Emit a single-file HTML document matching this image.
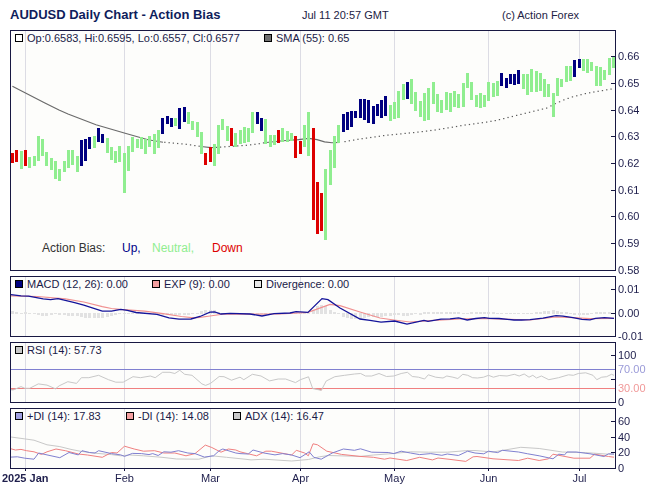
<!DOCTYPE html>
<html><head><meta charset="utf-8"><title>AUDUSD Daily Chart - Action Bias</title>
<style>html,body{margin:0;padding:0;background:#fff;width:650px;height:489px;overflow:hidden}svg{display:block}text{font-family:"Liberation Sans",sans-serif}</style>
</head><body>
<svg width="650" height="489" viewBox="0 0 650 489" font-family="Liberation Sans, sans-serif">
<rect width="650" height="489" fill="#ffffff"/>
<text x="10" y="19" font-size="13" font-weight="bold" fill="#0f1d5c">AUDUSD Daily Chart - Action Bias</text>
<text x="302" y="19" font-size="11" fill="#222244">Jul 11 20:57 GMT</text>
<text x="502" y="19" font-size="11" fill="#222244">(c) Action Forex</text>
<rect x="10.5" y="30.5" width="605" height="240" fill="#fdfdfb" stroke="#181842" stroke-width="1"/>
<line x1="25.5" y1="31" x2="25.5" y2="150" stroke="#dcdce4" stroke-width="1"/><line x1="124.5" y1="31" x2="124.5" y2="153" stroke="#dcdce4" stroke-width="1"/><line x1="210.5" y1="31" x2="210.5" y2="147" stroke="#dcdce4" stroke-width="1"/><line x1="300.5" y1="31" x2="300.5" y2="141" stroke="#dcdce4" stroke-width="1"/><line x1="394.5" y1="31" x2="394.5" y2="102" stroke="#dcdce4" stroke-width="1"/><line x1="488.5" y1="31" x2="488.5" y2="82" stroke="#dcdce4" stroke-width="1"/><line x1="579.5" y1="31" x2="579.5" y2="59" stroke="#dcdce4" stroke-width="1"/>
<polyline points="12.4,86.3 25.5,93 44.9,103 59,110.1 68,114 96,124.8 126,133.5 148,139.7 163,142.2" fill="none" stroke="#6a6a6a" stroke-width="1.15"/>
<polyline points="201,146.5 211,147.6 214,147.5" fill="none" stroke="#6a6a6a" stroke-width="1.15"/>
<polyline points="264,142.7 283,140.8 298.5,139.6 309,138.4 317,139.6 324.6,141.9 332,142.7 340,142.4" fill="none" stroke="#6a6a6a" stroke-width="1.15"/>
<rect x="164.2" y="141.7" width="1.3" height="1.2" fill="#5c5c5c"/><rect x="168.5" y="142.1" width="1.3" height="1.2" fill="#5c5c5c"/><rect x="172.7" y="142.5" width="1.3" height="1.2" fill="#5c5c5c"/><rect x="177.0" y="142.9" width="1.3" height="1.2" fill="#5c5c5c"/><rect x="181.3" y="143.3" width="1.3" height="1.2" fill="#5c5c5c"/><rect x="185.6" y="143.7" width="1.3" height="1.2" fill="#5c5c5c"/><rect x="189.9" y="144.3" width="1.3" height="1.2" fill="#5c5c5c"/><rect x="194.2" y="145.0" width="1.3" height="1.2" fill="#5c5c5c"/><rect x="198.5" y="145.6" width="1.3" height="1.2" fill="#5c5c5c"/><rect x="215.7" y="146.8" width="1.3" height="1.2" fill="#5c5c5c"/><rect x="219.9" y="146.5" width="1.3" height="1.2" fill="#5c5c5c"/><rect x="224.2" y="146.2" width="1.3" height="1.2" fill="#5c5c5c"/><rect x="228.5" y="145.9" width="1.3" height="1.2" fill="#5c5c5c"/><rect x="232.8" y="145.6" width="1.3" height="1.2" fill="#5c5c5c"/><rect x="237.1" y="145.3" width="1.3" height="1.2" fill="#5c5c5c"/><rect x="241.4" y="145.0" width="1.3" height="1.2" fill="#5c5c5c"/><rect x="245.7" y="144.7" width="1.3" height="1.2" fill="#5c5c5c"/><rect x="250.0" y="144.2" width="1.3" height="1.2" fill="#5c5c5c"/><rect x="254.3" y="143.7" width="1.3" height="1.2" fill="#5c5c5c"/><rect x="258.6" y="143.1" width="1.3" height="1.2" fill="#5c5c5c"/><rect x="262.9" y="142.3" width="1.3" height="1.2" fill="#5c5c5c"/><rect x="344.4" y="141.0" width="1.3" height="1.2" fill="#5c5c5c"/><rect x="348.7" y="140.2" width="1.3" height="1.2" fill="#5c5c5c"/><rect x="353.0" y="139.5" width="1.3" height="1.2" fill="#5c5c5c"/><rect x="357.3" y="138.7" width="1.3" height="1.2" fill="#5c5c5c"/><rect x="361.5" y="138.1" width="1.3" height="1.2" fill="#5c5c5c"/><rect x="365.8" y="137.5" width="1.3" height="1.2" fill="#5c5c5c"/><rect x="370.1" y="136.9" width="1.3" height="1.2" fill="#5c5c5c"/><rect x="374.4" y="136.3" width="1.3" height="1.2" fill="#5c5c5c"/><rect x="378.7" y="135.7" width="1.3" height="1.2" fill="#5c5c5c"/><rect x="383.0" y="135.0" width="1.3" height="1.2" fill="#5c5c5c"/><rect x="387.3" y="134.5" width="1.3" height="1.2" fill="#5c5c5c"/><rect x="391.6" y="134.1" width="1.3" height="1.2" fill="#5c5c5c"/><rect x="395.9" y="133.7" width="1.3" height="1.2" fill="#5c5c5c"/><rect x="400.2" y="133.3" width="1.3" height="1.2" fill="#5c5c5c"/><rect x="404.5" y="132.8" width="1.3" height="1.2" fill="#5c5c5c"/><rect x="408.7" y="132.4" width="1.3" height="1.2" fill="#5c5c5c"/><rect x="413.0" y="132.0" width="1.3" height="1.2" fill="#5c5c5c"/><rect x="417.3" y="131.5" width="1.3" height="1.2" fill="#5c5c5c"/><rect x="421.6" y="131.0" width="1.3" height="1.2" fill="#5c5c5c"/><rect x="425.9" y="130.5" width="1.3" height="1.2" fill="#5c5c5c"/><rect x="430.2" y="129.9" width="1.3" height="1.2" fill="#5c5c5c"/><rect x="434.5" y="129.4" width="1.3" height="1.2" fill="#5c5c5c"/><rect x="438.8" y="128.7" width="1.3" height="1.2" fill="#5c5c5c"/><rect x="443.1" y="128.0" width="1.3" height="1.2" fill="#5c5c5c"/><rect x="447.4" y="127.3" width="1.3" height="1.2" fill="#5c5c5c"/><rect x="451.7" y="126.6" width="1.3" height="1.2" fill="#5c5c5c"/><rect x="455.9" y="125.9" width="1.3" height="1.2" fill="#5c5c5c"/><rect x="460.2" y="125.1" width="1.3" height="1.2" fill="#5c5c5c"/><rect x="464.5" y="124.4" width="1.3" height="1.2" fill="#5c5c5c"/><rect x="468.8" y="123.9" width="1.3" height="1.2" fill="#5c5c5c"/><rect x="473.1" y="123.3" width="1.3" height="1.2" fill="#5c5c5c"/><rect x="477.4" y="122.7" width="1.3" height="1.2" fill="#5c5c5c"/><rect x="481.7" y="122.1" width="1.3" height="1.2" fill="#5c5c5c"/><rect x="486.0" y="121.5" width="1.3" height="1.2" fill="#5c5c5c"/><rect x="490.3" y="120.7" width="1.3" height="1.2" fill="#5c5c5c"/><rect x="494.6" y="120.0" width="1.3" height="1.2" fill="#5c5c5c"/><rect x="498.8" y="119.0" width="1.3" height="1.2" fill="#5c5c5c"/><rect x="503.1" y="118.0" width="1.3" height="1.2" fill="#5c5c5c"/><rect x="507.4" y="116.9" width="1.3" height="1.2" fill="#5c5c5c"/><rect x="511.7" y="115.9" width="1.3" height="1.2" fill="#5c5c5c"/><rect x="516.0" y="114.8" width="1.3" height="1.2" fill="#5c5c5c"/><rect x="520.3" y="113.8" width="1.3" height="1.2" fill="#5c5c5c"/><rect x="524.6" y="112.7" width="1.3" height="1.2" fill="#5c5c5c"/><rect x="528.9" y="111.7" width="1.3" height="1.2" fill="#5c5c5c"/><rect x="533.2" y="110.6" width="1.3" height="1.2" fill="#5c5c5c"/><rect x="537.5" y="109.6" width="1.3" height="1.2" fill="#5c5c5c"/><rect x="541.8" y="108.5" width="1.3" height="1.2" fill="#5c5c5c"/><rect x="546.0" y="107.5" width="1.3" height="1.2" fill="#5c5c5c"/><rect x="550.3" y="105.3" width="1.3" height="1.2" fill="#5c5c5c"/><rect x="554.6" y="103.0" width="1.3" height="1.2" fill="#5c5c5c"/><rect x="558.9" y="101.2" width="1.3" height="1.2" fill="#5c5c5c"/><rect x="563.2" y="99.3" width="1.3" height="1.2" fill="#5c5c5c"/><rect x="567.5" y="97.8" width="1.3" height="1.2" fill="#5c5c5c"/><rect x="571.8" y="96.3" width="1.3" height="1.2" fill="#5c5c5c"/><rect x="576.1" y="95.2" width="1.3" height="1.2" fill="#5c5c5c"/><rect x="580.4" y="94.1" width="1.3" height="1.2" fill="#5c5c5c"/><rect x="584.7" y="93.0" width="1.3" height="1.2" fill="#5c5c5c"/><rect x="589.0" y="92.2" width="1.3" height="1.2" fill="#5c5c5c"/><rect x="593.2" y="91.4" width="1.3" height="1.2" fill="#5c5c5c"/><rect x="597.5" y="90.7" width="1.3" height="1.2" fill="#5c5c5c"/><rect x="601.8" y="90.0" width="1.3" height="1.2" fill="#5c5c5c"/><rect x="606.1" y="89.2" width="1.3" height="1.2" fill="#5c5c5c"/><rect x="610.4" y="88.5" width="1.3" height="1.2" fill="#5c5c5c"/>
<g clip-path="url(#cm)"><rect x="11" y="153" width="3" height="10" fill="#dd0000"/><rect x="15" y="150" width="3" height="12" fill="#dd0000"/><rect x="20" y="151" width="3" height="18" fill="#90ee90"/><rect x="24" y="150" width="3" height="16" fill="#dd0000"/><rect x="28" y="157" width="3" height="11" fill="#90ee90"/><rect x="33" y="156" width="3" height="10" fill="#90ee90"/><rect x="37" y="136" width="3" height="25" fill="#90ee90"/><rect x="41" y="139" width="3" height="17" fill="#90ee90"/><rect x="45" y="152" width="3" height="14" fill="#90ee90"/><rect x="50" y="158" width="3" height="12" fill="#90ee90"/><rect x="54" y="161" width="3" height="18" fill="#90ee90"/><rect x="58" y="169" width="3" height="12" fill="#90ee90"/><rect x="63" y="161" width="3" height="11" fill="#90ee90"/><rect x="67" y="150" width="3" height="18" fill="#90ee90"/><rect x="71" y="150" width="3" height="15" fill="#90ee90"/><rect x="76" y="156" width="3" height="16" fill="#90ee90"/><rect x="80" y="140" width="3" height="26" fill="#000080"/><rect x="84" y="139" width="3" height="22" fill="#000080"/><rect x="88" y="137" width="3" height="12" fill="#000080"/><rect x="93" y="136" width="3" height="12" fill="#90ee90"/><rect x="97" y="128" width="3" height="14" fill="#000080"/><rect x="101" y="134" width="3" height="9" fill="#000080"/><rect x="106" y="138" width="3" height="15" fill="#90ee90"/><rect x="110" y="147" width="3" height="13" fill="#90ee90"/><rect x="114" y="151" width="3" height="12" fill="#90ee90"/><rect x="118" y="146" width="3" height="16" fill="#90ee90"/><rect x="123" y="153" width="3" height="40" fill="#90ee90"/><rect x="127" y="146" width="3" height="25" fill="#90ee90"/><rect x="131" y="137" width="3" height="15" fill="#90ee90"/><rect x="136" y="139" width="3" height="9" fill="#90ee90"/><rect x="140" y="137" width="3" height="12" fill="#90ee90"/><rect x="144" y="139" width="3" height="15" fill="#90ee90"/><rect x="148" y="136" width="3" height="11" fill="#90ee90"/><rect x="153" y="134" width="3" height="20" fill="#90ee90"/><rect x="157" y="130" width="3" height="18" fill="#90ee90"/><rect x="161" y="118" width="3" height="16" fill="#000080"/><rect x="166" y="116" width="3" height="8" fill="#000080"/><rect x="170" y="118" width="3" height="9" fill="#000080"/><rect x="174" y="118" width="3" height="8" fill="#90ee90"/><rect x="178" y="108" width="3" height="21" fill="#000080"/><rect x="183" y="107" width="3" height="15" fill="#000080"/><rect x="187" y="112" width="3" height="12" fill="#90ee90"/><rect x="191" y="121" width="3" height="9" fill="#90ee90"/><rect x="196" y="122" width="3" height="15" fill="#90ee90"/><rect x="200" y="132" width="3" height="22" fill="#90ee90"/><rect x="204" y="153" width="3" height="12" fill="#dd0000"/><rect x="209" y="147" width="3" height="15" fill="#dd0000"/><rect x="213" y="144" width="3" height="22" fill="#90ee90"/><rect x="217" y="125" width="3" height="29" fill="#90ee90"/><rect x="221" y="119" width="3" height="11" fill="#90ee90"/><rect x="226" y="126" width="3" height="15" fill="#90ee90"/><rect x="230" y="128" width="3" height="18" fill="#dd0000"/><rect x="234" y="133" width="3" height="14" fill="#90ee90"/><rect x="239" y="130" width="3" height="14" fill="#90ee90"/><rect x="243" y="127" width="3" height="16" fill="#90ee90"/><rect x="247" y="128" width="3" height="14" fill="#90ee90"/><rect x="251" y="112" width="3" height="21" fill="#90ee90"/><rect x="256" y="112" width="3" height="12" fill="#000080"/><rect x="260" y="118" width="3" height="13" fill="#000080"/><rect x="264" y="119" width="3" height="25" fill="#90ee90"/><rect x="269" y="135" width="3" height="12" fill="#90ee90"/><rect x="273" y="135" width="3" height="10" fill="#90ee90"/><rect x="277" y="130" width="3" height="13" fill="#dd0000"/><rect x="281" y="128" width="3" height="14" fill="#90ee90"/><rect x="286" y="131" width="3" height="11" fill="#90ee90"/><rect x="290" y="133" width="3" height="8" fill="#90ee90"/><rect x="294" y="136" width="3" height="22" fill="#dd0000"/><rect x="299" y="141" width="3" height="13" fill="#dd0000"/><rect x="303" y="125" width="3" height="22" fill="#90ee90"/><rect x="307" y="112" width="3" height="44" fill="#90ee90"/><rect x="312" y="128" width="3" height="92" fill="#dd0000"/><rect x="316" y="182" width="3" height="52" fill="#dd0000"/><rect x="320" y="193" width="3" height="38" fill="#dd0000"/><rect x="324" y="169" width="3" height="71" fill="#90ee90"/><rect x="329" y="150" width="3" height="35" fill="#90ee90"/><rect x="333" y="136" width="3" height="32" fill="#90ee90"/><rect x="337" y="125" width="3" height="18" fill="#90ee90"/><rect x="342" y="114" width="3" height="18" fill="#000080"/><rect x="346" y="112" width="3" height="18" fill="#000080"/><rect x="350" y="111" width="3" height="16" fill="#000080"/><rect x="354" y="111" width="3" height="7" fill="#000080"/><rect x="359" y="99" width="3" height="19" fill="#000080"/><rect x="363" y="99" width="3" height="21" fill="#000080"/><rect x="367" y="100" width="3" height="23" fill="#000080"/><rect x="372" y="106" width="3" height="18" fill="#000080"/><rect x="376" y="104" width="3" height="12" fill="#000080"/><rect x="380" y="100" width="3" height="18" fill="#000080"/><rect x="384" y="96" width="3" height="20" fill="#000080"/><rect x="389" y="105" width="3" height="16" fill="#90ee90"/><rect x="393" y="102" width="3" height="17" fill="#90ee90"/><rect x="397" y="91" width="3" height="27" fill="#90ee90"/><rect x="402" y="84" width="3" height="16" fill="#90ee90"/><rect x="406" y="82" width="3" height="17" fill="#000080"/><rect x="410" y="79" width="3" height="25" fill="#90ee90"/><rect x="414" y="92" width="3" height="19" fill="#90ee90"/><rect x="419" y="101" width="3" height="16" fill="#90ee90"/><rect x="423" y="93" width="3" height="28" fill="#90ee90"/><rect x="427" y="88" width="3" height="32" fill="#90ee90"/><rect x="432" y="82" width="3" height="22" fill="#90ee90"/><rect x="436" y="94" width="3" height="18" fill="#90ee90"/><rect x="440" y="100" width="3" height="13" fill="#90ee90"/><rect x="445" y="92" width="3" height="18" fill="#90ee90"/><rect x="449" y="93" width="3" height="19" fill="#90ee90"/><rect x="453" y="91" width="3" height="16" fill="#90ee90"/><rect x="457" y="94" width="3" height="14" fill="#90ee90"/><rect x="462" y="83" width="3" height="24" fill="#90ee90"/><rect x="466" y="73" width="3" height="15" fill="#90ee90"/><rect x="470" y="82" width="3" height="18" fill="#90ee90"/><rect x="475" y="95" width="3" height="12" fill="#90ee90"/><rect x="479" y="93" width="3" height="15" fill="#90ee90"/><rect x="483" y="95" width="3" height="12" fill="#90ee90"/><rect x="487" y="82" width="3" height="19" fill="#90ee90"/><rect x="492" y="83" width="3" height="14" fill="#90ee90"/><rect x="496" y="81" width="3" height="15" fill="#90ee90"/><rect x="500" y="73" width="3" height="13" fill="#000080"/><rect x="505" y="78" width="3" height="10" fill="#000080"/><rect x="509" y="74" width="3" height="10" fill="#000080"/><rect x="513" y="74" width="3" height="11" fill="#000080"/><rect x="517" y="70" width="3" height="14" fill="#000080"/><rect x="522" y="74" width="3" height="15" fill="#90ee90"/><rect x="526" y="74" width="3" height="21" fill="#90ee90"/><rect x="530" y="69" width="3" height="23" fill="#90ee90"/><rect x="535" y="71" width="3" height="21" fill="#90ee90"/><rect x="539" y="73" width="3" height="18" fill="#90ee90"/><rect x="543" y="79" width="3" height="18" fill="#90ee90"/><rect x="547" y="84" width="3" height="13" fill="#90ee90"/><rect x="552" y="93" width="3" height="24" fill="#90ee90"/><rect x="556" y="78" width="3" height="18" fill="#90ee90"/><rect x="560" y="79" width="3" height="8" fill="#90ee90"/><rect x="565" y="66" width="3" height="16" fill="#90ee90"/><rect x="569" y="66" width="3" height="15" fill="#90ee90"/><rect x="573" y="60" width="3" height="17" fill="#000080"/><rect x="578" y="59" width="3" height="9" fill="#000080"/><rect x="582" y="59" width="3" height="12" fill="#90ee90"/><rect x="586" y="59" width="3" height="14" fill="#90ee90"/><rect x="590" y="62" width="3" height="9" fill="#90ee90"/><rect x="595" y="66" width="3" height="20" fill="#90ee90"/><rect x="599" y="67" width="3" height="19" fill="#90ee90"/><rect x="603" y="70" width="3" height="10" fill="#90ee90"/><rect x="608" y="58" width="3" height="17" fill="#90ee90"/><rect x="612" y="57" width="3" height="11" fill="#90ee90"/></g>
<rect x="10.5" y="30.5" width="605" height="240" fill="none" stroke="#181842" stroke-width="1"/>
<g font-size="11">
<rect x="15.5" y="34.5" width="7" height="7" fill="#ffffff" stroke="#000" stroke-width="1"/>
<text x="27" y="42" fill="#1a1a48">Op:0.6583, Hi:0.6595, Lo:0.6557, Cl:0.6577</text>
<rect x="264.5" y="34.5" width="7" height="7" fill="#707070" stroke="#000" stroke-width="1"/>
<text x="276" y="42" fill="#1a1a48">SMA (55): 0.65</text>
</g>
<g font-size="12">
<text x="42" y="252" fill="#333">Action Bias:</text>
<text x="122" y="252" fill="#000088">Up,</text>
<text x="152" y="252" fill="#90ee90">Neutral,</text>
<text x="212" y="252" fill="#dd0000">Down</text>
</g>
<line x1="611" y1="243.5" x2="615" y2="243.5" stroke="#181842" stroke-width="1"/><line x1="611" y1="216.5" x2="615" y2="216.5" stroke="#181842" stroke-width="1"/><line x1="611" y1="190.5" x2="615" y2="190.5" stroke="#181842" stroke-width="1"/><line x1="611" y1="163.5" x2="615" y2="163.5" stroke="#181842" stroke-width="1"/><line x1="611" y1="136.5" x2="615" y2="136.5" stroke="#181842" stroke-width="1"/><line x1="611" y1="110.5" x2="615" y2="110.5" stroke="#181842" stroke-width="1"/><line x1="611" y1="83.5" x2="615" y2="83.5" stroke="#181842" stroke-width="1"/><line x1="611" y1="56.5" x2="615" y2="56.5" stroke="#181842" stroke-width="1"/>
<g font-size="11">









</g>
<rect x="10.5" y="276.5" width="605" height="60" fill="#fdfdfb" stroke="#181842" stroke-width="1"/>
<line x1="25.5" y1="277" x2="25.5" y2="336" stroke="#dcdce4" stroke-width="1"/><line x1="124.5" y1="277" x2="124.5" y2="336" stroke="#dcdce4" stroke-width="1"/><line x1="210.5" y1="277" x2="210.5" y2="336" stroke="#dcdce4" stroke-width="1"/><line x1="300.5" y1="277" x2="300.5" y2="336" stroke="#dcdce4" stroke-width="1"/><line x1="394.5" y1="277" x2="394.5" y2="336" stroke="#dcdce4" stroke-width="1"/><line x1="488.5" y1="277" x2="488.5" y2="336" stroke="#dcdce4" stroke-width="1"/><line x1="579.5" y1="277" x2="579.5" y2="336" stroke="#dcdce4" stroke-width="1"/>
<rect x="11" y="311" width="3" height="3" fill="#e2e2e2"/><rect x="15" y="312" width="3" height="2" fill="#e2e2e2"/><rect x="20" y="313" width="3" height="1" fill="#e2e2e2"/><rect x="24" y="312" width="3" height="2" fill="#e2e2e2"/><rect x="28" y="313" width="3" height="1" fill="#e2e2e2"/><rect x="33" y="313" width="3" height="1" fill="#e2e2e2"/><rect x="37" y="313" width="3" height="2" fill="#e2e2e2"/><rect x="41" y="313" width="3" height="3" fill="#e2e2e2"/><rect x="45" y="313" width="3" height="3" fill="#e2e2e2"/><rect x="50" y="313" width="3" height="2" fill="#e2e2e2"/><rect x="54" y="313" width="3" height="1" fill="#e2e2e2"/><rect x="58" y="313" width="3" height="2" fill="#e2e2e2"/><rect x="63" y="313" width="3" height="2" fill="#e2e2e2"/><rect x="67" y="313" width="3" height="3" fill="#e2e2e2"/><rect x="71" y="313" width="3" height="3" fill="#e2e2e2"/><rect x="76" y="313" width="3" height="3" fill="#e2e2e2"/><rect x="80" y="313" width="3" height="4" fill="#e2e2e2"/><rect x="84" y="313" width="3" height="5" fill="#e2e2e2"/><rect x="88" y="313" width="3" height="5" fill="#e2e2e2"/><rect x="93" y="313" width="3" height="5" fill="#e2e2e2"/><rect x="97" y="313" width="3" height="5" fill="#e2e2e2"/><rect x="101" y="313" width="3" height="5" fill="#e2e2e2"/><rect x="106" y="313" width="3" height="4" fill="#e2e2e2"/><rect x="110" y="313" width="3" height="3" fill="#e2e2e2"/><rect x="114" y="313" width="3" height="2" fill="#e2e2e2"/><rect x="118" y="313" width="3" height="1" fill="#e2e2e2"/><rect x="123" y="313" width="3" height="1" fill="#e2e2e2"/><rect x="127" y="313" width="3" height="1" fill="#e2e2e2"/><rect x="131" y="313" width="3" height="1" fill="#e2e2e2"/><rect x="136" y="313" width="3" height="1" fill="#e2e2e2"/><rect x="140" y="313" width="3" height="1" fill="#e2e2e2"/><rect x="144" y="313" width="3" height="1" fill="#e2e2e2"/><rect x="148" y="313" width="3" height="1" fill="#e2e2e2"/><rect x="153" y="313" width="3" height="1" fill="#e2e2e2"/><rect x="157" y="313" width="3" height="2" fill="#e2e2e2"/><rect x="161" y="313" width="3" height="2" fill="#e2e2e2"/><rect x="166" y="313" width="3" height="2" fill="#e2e2e2"/><rect x="170" y="313" width="3" height="2" fill="#e2e2e2"/><rect x="174" y="313" width="3" height="2" fill="#e2e2e2"/><rect x="178" y="313" width="3" height="2" fill="#e2e2e2"/><rect x="183" y="313" width="3" height="2" fill="#e2e2e2"/><rect x="187" y="313" width="3" height="2" fill="#e2e2e2"/><rect x="191" y="313" width="3" height="1" fill="#e2e2e2"/><rect x="196" y="313" width="3" height="1" fill="#e2e2e2"/><rect x="200" y="311" width="3" height="3" fill="#e2e2e2"/><rect x="204" y="310" width="3" height="4" fill="#e2e2e2"/><rect x="209" y="310" width="3" height="4" fill="#e2e2e2"/><rect x="213" y="310" width="3" height="4" fill="#e2e2e2"/><rect x="217" y="312" width="3" height="2" fill="#e2e2e2"/><rect x="221" y="313" width="3" height="1" fill="#e2e2e2"/><rect x="226" y="313" width="3" height="1" fill="#e2e2e2"/><rect x="230" y="313" width="3" height="1" fill="#e2e2e2"/><rect x="234" y="313" width="3" height="1" fill="#e2e2e2"/><rect x="239" y="313" width="3" height="1" fill="#e2e2e2"/><rect x="243" y="313" width="3" height="1" fill="#e2e2e2"/><rect x="247" y="313" width="3" height="1" fill="#e2e2e2"/><rect x="251" y="313" width="3" height="1" fill="#e2e2e2"/><rect x="256" y="313" width="3" height="1" fill="#e2e2e2"/><rect x="260" y="313" width="3" height="1" fill="#e2e2e2"/><rect x="264" y="313" width="3" height="1" fill="#e2e2e2"/><rect x="269" y="313" width="3" height="1" fill="#e2e2e2"/><rect x="273" y="313" width="3" height="1" fill="#e2e2e2"/><rect x="277" y="313" width="3" height="1" fill="#e2e2e2"/><rect x="281" y="313" width="3" height="1" fill="#e2e2e2"/><rect x="286" y="313" width="3" height="1" fill="#e2e2e2"/><rect x="290" y="313" width="3" height="1" fill="#e2e2e2"/><rect x="294" y="313" width="3" height="1" fill="#e2e2e2"/><rect x="299" y="313" width="3" height="1" fill="#e2e2e2"/><rect x="303" y="313" width="3" height="1" fill="#e2e2e2"/><rect x="307" y="313" width="3" height="1" fill="#e2e2e2"/><rect x="312" y="310" width="3" height="4" fill="#e2e2e2"/><rect x="316" y="306" width="3" height="8" fill="#e2e2e2"/><rect x="320" y="305" width="3" height="9" fill="#e2e2e2"/><rect x="324" y="306" width="3" height="8" fill="#e2e2e2"/><rect x="329" y="310" width="3" height="4" fill="#e2e2e2"/><rect x="333" y="312" width="3" height="2" fill="#e2e2e2"/><rect x="337" y="313" width="3" height="1" fill="#e2e2e2"/><rect x="342" y="313" width="3" height="4" fill="#e2e2e2"/><rect x="346" y="313" width="3" height="5" fill="#e2e2e2"/><rect x="350" y="313" width="3" height="6" fill="#e2e2e2"/><rect x="354" y="313" width="3" height="6" fill="#e2e2e2"/><rect x="359" y="313" width="3" height="6" fill="#e2e2e2"/><rect x="363" y="313" width="3" height="5" fill="#e2e2e2"/><rect x="367" y="313" width="3" height="4" fill="#e2e2e2"/><rect x="372" y="313" width="3" height="4" fill="#e2e2e2"/><rect x="376" y="313" width="3" height="4" fill="#e2e2e2"/><rect x="380" y="313" width="3" height="4" fill="#e2e2e2"/><rect x="384" y="313" width="3" height="3" fill="#e2e2e2"/><rect x="389" y="313" width="3" height="3" fill="#e2e2e2"/><rect x="393" y="313" width="3" height="2" fill="#e2e2e2"/><rect x="397" y="313" width="3" height="2" fill="#e2e2e2"/><rect x="402" y="313" width="3" height="3" fill="#e2e2e2"/><rect x="406" y="313" width="3" height="3" fill="#e2e2e2"/><rect x="410" y="313" width="3" height="2" fill="#e2e2e2"/><rect x="414" y="313" width="3" height="1" fill="#e2e2e2"/><rect x="419" y="313" width="3" height="2" fill="#e2e2e2"/><rect x="423" y="312" width="3" height="2" fill="#e2e2e2"/><rect x="427" y="312" width="3" height="2" fill="#e2e2e2"/><rect x="432" y="312" width="3" height="2" fill="#e2e2e2"/><rect x="436" y="312" width="3" height="2" fill="#e2e2e2"/><rect x="440" y="312" width="3" height="2" fill="#e2e2e2"/><rect x="445" y="312" width="3" height="2" fill="#e2e2e2"/><rect x="449" y="312" width="3" height="2" fill="#e2e2e2"/><rect x="453" y="312" width="3" height="2" fill="#e2e2e2"/><rect x="457" y="312" width="3" height="2" fill="#e2e2e2"/><rect x="462" y="313" width="3" height="1" fill="#e2e2e2"/><rect x="466" y="313" width="3" height="1" fill="#e2e2e2"/><rect x="470" y="312" width="3" height="2" fill="#e2e2e2"/><rect x="475" y="312" width="3" height="2" fill="#e2e2e2"/><rect x="479" y="312" width="3" height="2" fill="#e2e2e2"/><rect x="483" y="312" width="3" height="2" fill="#e2e2e2"/><rect x="487" y="312" width="3" height="2" fill="#e2e2e2"/><rect x="492" y="312" width="3" height="2" fill="#e2e2e2"/><rect x="496" y="313" width="3" height="1" fill="#e2e2e2"/><rect x="500" y="313" width="3" height="1" fill="#e2e2e2"/><rect x="505" y="313" width="3" height="1" fill="#e2e2e2"/><rect x="509" y="313" width="3" height="1" fill="#e2e2e2"/><rect x="513" y="313" width="3" height="1" fill="#e2e2e2"/><rect x="517" y="313" width="3" height="1" fill="#e2e2e2"/><rect x="522" y="313" width="3" height="1" fill="#e2e2e2"/><rect x="526" y="313" width="3" height="1" fill="#e2e2e2"/><rect x="530" y="313" width="3" height="1" fill="#e2e2e2"/><rect x="535" y="312" width="3" height="2" fill="#e2e2e2"/><rect x="539" y="312" width="3" height="2" fill="#e2e2e2"/><rect x="543" y="311" width="3" height="3" fill="#e2e2e2"/><rect x="547" y="311" width="3" height="3" fill="#e2e2e2"/><rect x="552" y="310" width="3" height="4" fill="#e2e2e2"/><rect x="556" y="311" width="3" height="3" fill="#e2e2e2"/><rect x="560" y="312" width="3" height="2" fill="#e2e2e2"/><rect x="565" y="312" width="3" height="2" fill="#e2e2e2"/><rect x="569" y="313" width="3" height="1" fill="#e2e2e2"/><rect x="573" y="313" width="3" height="2" fill="#e2e2e2"/><rect x="578" y="313" width="3" height="2" fill="#e2e2e2"/><rect x="582" y="313" width="3" height="2" fill="#e2e2e2"/><rect x="586" y="313" width="3" height="2" fill="#e2e2e2"/><rect x="590" y="313" width="3" height="1" fill="#e2e2e2"/><rect x="595" y="312" width="3" height="2" fill="#e2e2e2"/><rect x="599" y="312" width="3" height="2" fill="#e2e2e2"/><rect x="603" y="312" width="3" height="2" fill="#e2e2e2"/><rect x="608" y="312" width="3" height="2" fill="#e2e2e2"/><rect x="612" y="313" width="3" height="1" fill="#e2e2e2"/>
<polyline points="11,295.9 37.7,296.5 65.4,298.9 83.8,302 102.3,306.6 111.5,308.5 120,309.4 144.6,311.2 163,313.7 181.5,316.5 194,317.8 200,317.4 210,316 224,314 250,314.2 280,314 308,312.4 330,304.4 340,305.6 360,312 380,318 394,320 410,322 430,320.6 460,319 484,318.4 510,319.4 530,320 556,317 573,317.7 590,318.7 614,318.3" fill="none" stroke="#f09090" stroke-width="1.2"/>
<polyline points="11,294.6 21,295.9 28.5,296.1 43.2,298.9 50.6,299.6 58,298.7 74.6,302.6 83.8,305.1 102.3,311.2 111.5,311.2 120.8,309.4 127.4,310.4 136,312.5 157,314.3 169,317.8 179,319.2 191,319 200,316.5 210,312.2 214.6,312 221,314 230,313.4 250,314 262,316 274,313.6 290,313 296,311.6 308,312.4 322,298.6 328,299.6 340,308 360,319 370,320.3 381,322.2 394.6,321 407,324.2 424,320.4 428,321.3 441,319.2 450,318.8 458.6,317.9 467.2,320 475.8,318.5 484.5,317.6 489.4,318.3 499,318.5 514,320 521.4,320 530,319.6 543,318.1 556,315.7 563,316.1 573,317.7 582,319.4 590,319.8 595.5,318.3 604.5,317.7 614,318.3" fill="none" stroke="#14149a" stroke-width="1.3"/>
<rect x="10.5" y="276.5" width="605" height="60" fill="none" stroke="#181842" stroke-width="1"/>
<line x1="611" y1="289.5" x2="615" y2="289.5" stroke="#181842" stroke-width="1"/><line x1="611" y1="313.5" x2="615" y2="313.5" stroke="#181842" stroke-width="1"/>
<g font-size="11">



<rect x="15.5" y="280.5" width="7" height="7" fill="#000080" stroke="#000" stroke-width="1"/>
<text x="27" y="288" fill="#1a1a48">MACD (12, 26): 0.00</text>
<rect x="152.5" y="280.5" width="7" height="7" fill="#f4a0a0" stroke="#000" stroke-width="1"/>
<text x="164" y="288" fill="#1a1a48">EXP (9): 0.00</text>
<rect x="254.5" y="280.5" width="7" height="7" fill="#e8e8e8" stroke="#000" stroke-width="1"/>
<text x="266" y="288" fill="#1a1a48">Divergence: 0.00</text>
</g>
<rect x="10.5" y="342.5" width="605" height="60" fill="#fdfdfb" stroke="#181842" stroke-width="1"/>
<line x1="25.5" y1="343" x2="25.5" y2="402" stroke="#dcdce4" stroke-width="1"/><line x1="124.5" y1="343" x2="124.5" y2="402" stroke="#dcdce4" stroke-width="1"/><line x1="210.5" y1="343" x2="210.5" y2="402" stroke="#dcdce4" stroke-width="1"/><line x1="300.5" y1="343" x2="300.5" y2="402" stroke="#dcdce4" stroke-width="1"/><line x1="394.5" y1="343" x2="394.5" y2="402" stroke="#dcdce4" stroke-width="1"/><line x1="488.5" y1="343" x2="488.5" y2="402" stroke="#dcdce4" stroke-width="1"/><line x1="579.5" y1="343" x2="579.5" y2="402" stroke="#dcdce4" stroke-width="1"/>
<line x1="11" y1="369.5" x2="615" y2="369.5" stroke="#8080d0" stroke-width="1"/>
<line x1="11" y1="388.5" x2="615" y2="388.5" stroke="#f08080" stroke-width="1"/>
<polygon points="312.5,388.5 321.3,390.6 322.8,388.5" fill="#f08080"/><polygon points="11,388.5 11,389.8 13,390 18,388.5" fill="#f08080"/>
<polyline points="11,389.8 13,390 21,386.6 24.8,388.3 29.7,388.3 38.3,383.9 47,385.1 55.5,388.8 59.2,385.8 67.8,381.7 76.5,383.4 81.4,377.7 88.8,377.7 98.6,375.3 108.5,379.7 115.8,382.2 123.2,382.2 133,376.7 140.5,377.7 150.3,376 155.2,377.7 162.6,372.3 170,372.3 174.8,373.5 179.8,370.3 184.7,374.3 192,375.3 201.9,383.9 205.6,385.4 210.5,383.4 219.2,376.5 224,376.7 231.5,380.2 240,377.2 243.8,379.7 252.4,374.3 261,376 269.6,380.9 278.2,379 285.6,379 295.5,382.6 300.4,379.7 308.5,376.8 312.7,388.6 321.3,390.3 326.2,381 334.8,376.7 344.6,375.3 354.5,374 360.6,373.5 365.5,376 371.7,376 379,373.5 386.5,376.5 393.8,376 401.2,373.5 407.4,372.3 412.3,376.5 418.5,377.2 424.6,379 428.3,374.8 435.7,377.2 443,378 446.8,376 452.9,377.2 457.8,378.5 462.8,374.3 467.7,375.3 472.6,377.7 477.4,378 483.5,377.2 488.5,375.3 493.4,377.2 499.5,375.5 507,376 514.3,374.3 519.2,376 524.2,374 529,377.2 532.8,375.3 536.5,378 541.4,376 548.8,379.7 558.6,377.7 568.5,374.8 573.4,375.3 578.3,373.5 585.7,372.8 593,375.3 596.8,379.7 601.7,377.2 606.6,376.7 611.5,374.3 614,375.3" fill="none" stroke="#c8c8c8" stroke-width="1"/>
<rect x="10.5" y="342.5" width="605" height="60" fill="none" stroke="#181842" stroke-width="1"/>
<line x1="611" y1="355.5" x2="615" y2="355.5" stroke="#181842" stroke-width="1"/><line x1="611" y1="379.5" x2="615" y2="379.5" stroke="#181842" stroke-width="1"/>
<g font-size="11">




<rect x="15.5" y="346.5" width="7" height="7" fill="#c8c8c8" stroke="#000" stroke-width="1"/>
<text x="27" y="354" fill="#1a1a48">RSI (14): 57.73</text>
</g>
<rect x="10.5" y="408.5" width="605" height="60" fill="#fdfdfb" stroke="#181842" stroke-width="1"/>
<line x1="25.5" y1="409" x2="25.5" y2="468" stroke="#dcdce4" stroke-width="1"/><line x1="124.5" y1="409" x2="124.5" y2="468" stroke="#dcdce4" stroke-width="1"/><line x1="210.5" y1="409" x2="210.5" y2="468" stroke="#dcdce4" stroke-width="1"/><line x1="300.5" y1="409" x2="300.5" y2="468" stroke="#dcdce4" stroke-width="1"/><line x1="394.5" y1="409" x2="394.5" y2="468" stroke="#dcdce4" stroke-width="1"/><line x1="488.5" y1="409" x2="488.5" y2="468" stroke="#dcdce4" stroke-width="1"/><line x1="579.5" y1="409" x2="579.5" y2="468" stroke="#dcdce4" stroke-width="1"/>
<polyline points="11,437 24.8,438.9 34,440.2 47,444.8 59.8,446.6 71,449.4 80.2,451.2 93,453 111.5,454.6 120.8,455.8 130,455 143.5,455.8 162,457.3 176.7,459 198.8,459.2 211.8,455.8 226.5,457.3 245,459.2 251,459.9 264,459.2 291.7,461 308.3,459.5 319.4,456.8 328.6,455.5 360,456.4 373.5,455 392,453.6 410.4,451.8 428.8,452.2 447.3,452.2 465.8,450.7 475,450.5 493,452 520.8,447.3 539.2,448.5 562.3,452 585.4,452.6 608.5,454.2 614,453.8" fill="none" stroke="#c8c8c8" stroke-width="1"/>
<polyline points="11,448.8 15.5,450 21,449.4 26.6,450.7 34,451.8 41.4,454.4 47,451.8 56,449 65.4,450.7 78.3,454 87.5,455 102.3,457.3 111.5,452.5 117,453 124.5,446.2 134.2,449 143.5,451.2 154.5,450.7 163.8,453 174.8,453 186,455.8 195,453.6 205.3,445.1 211.8,447.5 221,452.2 228.4,449 235.8,450 240,451.8 247.4,453.6 256.6,455.8 265.8,451.2 271.4,451.2 291.7,455 296.3,450.3 304.6,453 308.3,455.8 313,443.8 317.5,444.8 326.8,451.2 341.5,454.4 360,456.4 373.5,457.3 384.5,459.2 390,458 406.7,460.5 419.6,457.3 432.5,459.9 438,458 451,459.5 465.8,461.4 473.1,456.8 477,456.5 493,458.8 518.5,460.5 527.7,458.2 539.2,460.5 548.5,458.8 553,454.2 573.9,458.2 590,458.2 594.6,454.2 608.5,456.5 614,457.2" fill="none" stroke="#f08080" stroke-width="1"/>
<polyline points="11,457.1 17.4,456.8 24.8,458.2 34,459.2 38.6,453 47,454.9 59.8,457.7 69,452.5 78.3,454.9 82,450.7 89.4,452.5 95,453 98.6,450.7 111.5,453.6 120.8,454.9 124.5,456.4 132.4,453.4 141.6,453.6 149,454.6 152.7,453.6 158.2,455.5 163.8,451.8 171,452.2 178.5,450.7 187.8,453 195,453.6 204.4,457.1 213.6,455.8 219.2,450.7 222.8,449 235.8,453 240,453.6 248.3,454 253,450 264,453 275,454.9 282.5,453.6 291.7,455 300,457.7 309.2,451.8 313.8,457.3 321.2,459.2 332.3,453 343.4,449 354.5,450.3 360.5,448.8 371.6,452.2 388.2,452.5 393.8,453.6 401.2,451.2 410.4,453 419.6,454.6 430.7,453.6 441.8,455.3 447.3,454 458.4,455.5 467.6,451.2 475,453 483.8,453.8 488.5,451.2 497.7,452.6 502.3,450.3 518.5,452 527.7,453.8 539.2,455.8 553,458.8 558.8,454.2 564.6,454.9 567,452 576.2,452 590,453.8 603.9,456.5 608.5,453.8 614,454.2" fill="none" stroke="#8080d0" stroke-width="1"/>
<rect x="10.5" y="408.5" width="605" height="60" fill="none" stroke="#181842" stroke-width="1"/>
<line x1="611" y1="421.5" x2="615" y2="421.5" stroke="#181842" stroke-width="1"/><line x1="611" y1="437.5" x2="615" y2="437.5" stroke="#181842" stroke-width="1"/><line x1="611" y1="452.5" x2="615" y2="452.5" stroke="#181842" stroke-width="1"/>
<g font-size="11">




<rect x="15.5" y="412.5" width="7" height="7" fill="#a0a0e0" stroke="#000" stroke-width="1"/>
<text x="27" y="420" fill="#1a1a48">+DI (14): 17.83</text>
<rect x="126.5" y="412.5" width="7" height="7" fill="#f4a0a0" stroke="#000" stroke-width="1"/>
<text x="138" y="420" fill="#1a1a48">-DI (14): 14.08</text>
<rect x="233.5" y="412.5" width="7" height="7" fill="#c8c8c8" stroke="#000" stroke-width="1"/>
<text x="245" y="420" fill="#1a1a48">ADX (14): 16.47</text>
</g>
<line x1="25.5" y1="468" x2="25.5" y2="471" stroke="#181842" stroke-width="1"/><line x1="124.5" y1="468" x2="124.5" y2="471" stroke="#181842" stroke-width="1"/><line x1="210.5" y1="468" x2="210.5" y2="471" stroke="#181842" stroke-width="1"/><line x1="300.5" y1="468" x2="300.5" y2="471" stroke="#181842" stroke-width="1"/><line x1="394.5" y1="468" x2="394.5" y2="471" stroke="#181842" stroke-width="1"/><line x1="488.5" y1="468" x2="488.5" y2="471" stroke="#181842" stroke-width="1"/><line x1="579.5" y1="468" x2="579.5" y2="471" stroke="#181842" stroke-width="1"/>
<defs><clipPath id="cm"><rect x="11" y="31" width="604" height="239"/></clipPath></defs>
</svg>
<svg width="650" height="489" viewBox="0 0 650 489" font-family="Liberation Sans, sans-serif" style="position:absolute;left:0;top:0;will-change:transform"><text x="618" y="274" fill="#1e1e4c" font-size="11">0.58</text><text x="618" y="247" fill="#1e1e4c" font-size="11">0.59</text><text x="618" y="220" fill="#1e1e4c" font-size="11">0.60</text><text x="618" y="194" fill="#1e1e4c" font-size="11">0.61</text><text x="618" y="167" fill="#1e1e4c" font-size="11">0.62</text><text x="618" y="140" fill="#1e1e4c" font-size="11">0.63</text><text x="618" y="114" fill="#1e1e4c" font-size="11">0.64</text><text x="618" y="87" fill="#1e1e4c" font-size="11">0.65</text><text x="618" y="60" fill="#1e1e4c" font-size="11">0.66</text><text x="618" y="293" fill="#1e1e4c" font-size="11">0.01</text><text x="618" y="317" fill="#1e1e4c" font-size="11">0.00</text><text x="618" y="340" fill="#1e1e4c" font-size="11">-0.01</text><text x="618" y="359" fill="#1e1e4c" font-size="11">100</text><text x="618" y="373" fill="#9a9ad8" font-size="11">70.00</text><text x="618" y="392" fill="#f09898" font-size="11">30.00</text><text x="618" y="406" fill="#1e1e4c" font-size="11">0</text><text x="618" y="425" fill="#1e1e4c" font-size="11">60</text><text x="618" y="441" fill="#1e1e4c" font-size="11">40</text><text x="618" y="456" fill="#1e1e4c" font-size="11">20</text><text x="618" y="472" fill="#1e1e4c" font-size="11">0</text><g font-size="11" fill="#1e1e4c"><text x="2" y="482" font-weight="bold">2025 Jan</text><text x="124.5" y="482" text-anchor="middle">Feb</text><text x="210.5" y="482" text-anchor="middle">Mar</text><text x="300.5" y="482" text-anchor="middle">Apr</text><text x="394.5" y="482" text-anchor="middle">May</text><text x="488.5" y="482" text-anchor="middle">Jun</text><text x="579.5" y="482" text-anchor="middle">Jul</text></g></svg>
</body></html>
